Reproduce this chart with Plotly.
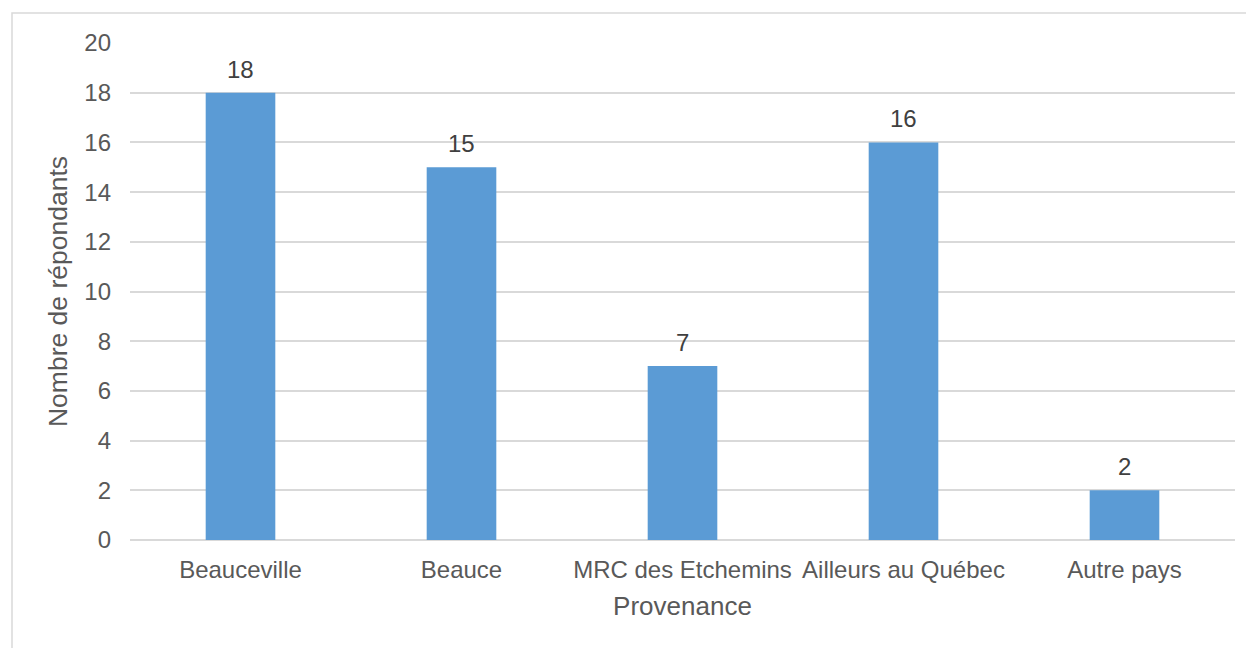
import plotly.graph_objects as go

categories = ["Beauceville", "Beauce", "MRC des Etchemins", "Ailleurs au Québec", "Autre pays"]
values = [18, 15, 7, 16, 2]
y_ticks = [0, 2, 4, 6, 8, 10, 12, 14, 16, 18, 20]

FONT = "Liberation Sans, Arial, sans-serif"
TXT = "#595959"

fig = go.Figure()
fig.add_trace(go.Bar(
    x=categories, y=values,
    marker=dict(color="#5B9BD5", line=dict(width=0)),
    width=0.315,
    hoverinfo="x+y",
))

for c, v in zip(categories, values):
    fig.add_annotation(x=c, y=v, text=str(v), showarrow=False,
                       yanchor="bottom", yshift=8,
                       font=dict(family=FONT, size=24, color="#404040"))

fig.update_layout(
    width=1246, height=640,
    margin=dict(l=122, r=19, t=35, b=108),
    paper_bgcolor="white", plot_bgcolor="white",
    showlegend=False,
    font=dict(family=FONT, color=TXT),
    xaxis=dict(
        title=dict(text="Provenance", font=dict(family=FONT, size=26, color=TXT), standoff=14),
        tickfont=dict(family=FONT, size=24, color=TXT),
        showgrid=False, showline=False, zeroline=False,
        ticklabelstandoff=13,
    ),
    yaxis=dict(
        title=dict(text="Nombre de répondants", font=dict(family=FONT, size=26.5, color=TXT), standoff=9),
        tickfont=dict(family=FONT, size=24, color=TXT),
        range=[0, 20], tickvals=y_ticks,
        showgrid=True, gridcolor="#D9D9D9", gridwidth=1.5,
        zeroline=True, zerolinecolor="#D9D9D9", zerolinewidth=1.5,
        showline=False,
        ticklabelstandoff=18,
    ),
    shapes=[dict(type="rect", xref="paper", yref="paper",
                 x0=(4 - 122) / 1105, x1=1.2, y0=-0.5, y1=1 + 30 / 497,
                 line=dict(color="#D9D9D9", width=1.5), fillcolor="rgba(0,0,0,0)", layer="below")],
)

fig.write_html("out.html")
